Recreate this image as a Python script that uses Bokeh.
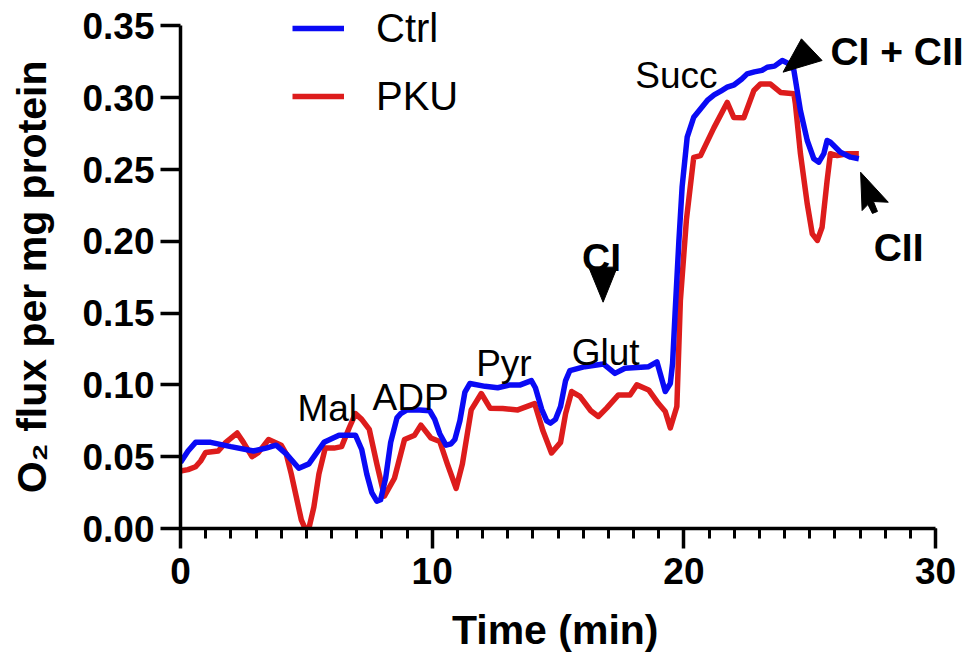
from bokeh.plotting import figure
from bokeh.models import (Range1d, SingleIntervalTicker, FixedTicker, Label, Legend,
                          LegendItem, NumeralTickFormatter)
from bokeh.embed import file_html
from bokeh.resources import INLINE

# ---- data ----
ctrl_t = [0.0, 0.3, 0.6, 1.2, 2.0, 2.9, 3.4, 3.8, 4.2, 4.7, 5.1, 5.7, 6.3, 6.95, 7.2, 7.4, 7.6,
          7.8, 7.95, 8.15, 8.35, 8.6, 8.75, 9.0, 9.5, 9.9, 10.1, 10.3, 10.55, 10.75, 10.9, 11.1,
          11.3, 11.5, 12.1, 12.6, 13.1, 13.5, 13.94, 14.1, 14.35, 14.55, 14.7, 14.9, 15.1, 15.3,
          15.47, 16.06, 16.8, 17.26, 17.66, 18.6, 18.93, 19.26, 19.46, 19.55, 19.65, 19.8, 19.93,
          20.13, 20.39, 20.93, 21.2, 21.5, 21.72, 22.0, 22.3, 22.51, 22.8, 23.1, 23.31, 23.6,
          23.91, 24.17, 24.37, 24.63, 24.9, 25.16, 25.36, 25.56, 25.69, 25.82, 26.22, 26.62,
          26.95]
ctrl_v = [0.046, 0.054, 0.060, 0.060, 0.057, 0.054, 0.056, 0.058, 0.052, 0.042, 0.045, 0.060,
          0.065, 0.065, 0.055, 0.038, 0.025, 0.019, 0.020, 0.035, 0.060, 0.077, 0.080, 0.0826,
          0.0825, 0.082, 0.076, 0.066, 0.058, 0.059, 0.062, 0.075, 0.095, 0.101, 0.099, 0.098,
          0.100, 0.100, 0.103, 0.098, 0.083, 0.075, 0.0734, 0.076, 0.085, 0.103, 0.110, 0.1127,
          0.1146, 0.108, 0.1116, 0.1127, 0.116, 0.0954, 0.101, 0.115, 0.150, 0.200, 0.238,
          0.2725, 0.2864, 0.2981, 0.302, 0.305, 0.3073, 0.309, 0.313, 0.3166, 0.318, 0.319,
          0.3212, 0.322, 0.3259, 0.3236, 0.319, 0.291, 0.2702, 0.2575, 0.2551, 0.261, 0.2702,
          0.269, 0.262, 0.2586, 0.2575]

pku_t = [0.0, 0.3, 0.6, 0.8, 1.0, 1.5, 1.8, 2.25, 2.5, 2.84, 3.1, 3.5, 4.0, 4.2, 4.4, 4.6, 4.8,
         4.95, 5.1, 5.3, 5.5, 5.75, 6.1, 6.4, 6.7, 6.95, 7.2, 7.5, 7.8, 8.1, 8.5, 8.9, 9.3, 9.55,
         9.95, 10.3, 10.6, 10.95, 11.2, 11.55, 11.95, 12.3, 12.8, 13.4, 14.07, 14.4, 14.74,
         15.1, 15.3, 15.54, 15.87, 16.3, 16.6, 16.93, 17.4, 17.86, 18.13, 18.6, 18.99, 19.26,
         19.46, 19.72, 19.86, 20.1, 20.39, 20.66, 21.19, 21.72, 21.98, 22.38, 22.78, 23.04,
         23.44, 23.84, 24.37, 24.43, 24.63, 24.9, 25.1, 25.3, 25.49, 25.69, 25.82, 26.09,
         26.49, 26.95]
pku_v = [0.040, 0.041, 0.043, 0.047, 0.053, 0.054, 0.060, 0.0665, 0.060, 0.050, 0.053, 0.062,
         0.058, 0.052, 0.038, 0.022, 0.006, 0.0, 0.0, 0.015, 0.038, 0.056, 0.056, 0.057, 0.070,
         0.080, 0.076, 0.069, 0.045, 0.0225, 0.035, 0.062, 0.065, 0.072, 0.063, 0.0606, 0.045,
         0.028, 0.045, 0.0826, 0.094, 0.0838, 0.0835, 0.0826, 0.087, 0.068, 0.0526, 0.060,
         0.080, 0.0954, 0.092, 0.082, 0.078, 0.0838, 0.093, 0.093, 0.100, 0.0965, 0.087,
         0.0815, 0.070, 0.085, 0.159, 0.215, 0.2585, 0.2597, 0.279, 0.2967, 0.2863, 0.286,
         0.305, 0.3095, 0.3095, 0.3037, 0.3027, 0.2957, 0.261, 0.2261, 0.2052, 0.2006, 0.2098,
         0.2423, 0.261, 0.2597, 0.261, 0.261]

series_names = ["Ctrl", "PKU"]
y_ticks = [0.00, 0.05, 0.10, 0.15, 0.20, 0.25, 0.30, 0.35]

# annotation texts and anchors (data units)
step_labels = ["Mal", "ADP", "Pyr", "Glut", "Succ"]
step_x = [5.83, 9.14, 12.85, 16.89, 19.7]
step_y = [0.0836, 0.0914, 0.1147, 0.1228, 0.3155]

complex_labels = ["CI", "CI + CII", "CII"]
complex_x = [16.73, 25.82, 27.54]
complex_y = [0.189, 0.332, 0.1955]
complex_align = ["center", "left", "left"]

# arrow / triangle markers
ci_tri_x = [16.22, 17.35, 16.79]
ci_tri_y = [0.182, 0.182, 0.1576]
cicii_tri_x = [23.94, 24.67, 25.49]
cicii_tri_y = [0.3178, 0.341, 0.3259]
cii_arrow_x = [27.02, 27.08, 27.31, 27.49, 27.69, 27.53, 28.12]
cii_arrow_y = [0.2481, 0.2214, 0.2256, 0.2194, 0.2208, 0.2277, 0.2272]

BLUE = "#0A0AF5"
RED = "#DD1C1C"
FONT = "Liberation Sans"
NBSP = "\u00a0"

# frame: x 0..30 spans px 180..935, y 0..0.35 spans px 528..25
p = figure(width=977, height=665, x_range=Range1d(0, 31.585), y_range=Range1d(0, 0.3663),
           output_backend="svg", toolbar_location=None,
           min_border_left=180, min_border_right=2, min_border_top=2, min_border_bottom=137)
p.grid.visible = False
p.outline_line_color = None
p.background_fill_color = "white"

r_pku = p.line(pku_t, pku_v, line_color=RED, line_width=5.5, line_join="round")
r_ctrl = p.line(ctrl_t, ctrl_v, line_color=BLUE, line_width=5.5, line_join="round")

p.patch(ci_tri_x, ci_tri_y, fill_color="black", line_color="black")
p.patch(cicii_tri_x, cicii_tri_y, fill_color="black", line_color="black")
p.patch(cii_arrow_x, cii_arrow_y, fill_color="black", line_color="black")

# axes
for ax in (p.xaxis[0], p.yaxis[0]):
    ax.axis_line_width = 3.5
    ax.axis_line_color = "black"
    ax.major_tick_line_width = 3.5
    ax.minor_tick_line_width = 3
    ax.major_tick_in = 0
    ax.minor_tick_in = 0
    ax.major_label_text_font = FONT
    ax.major_label_text_font_style = "bold"
    ax.major_label_text_font_size = "37px"
    ax.major_label_text_color = "black"
    ax.axis_label_text_font = FONT
    ax.axis_label_text_font_style = "bold"
    ax.axis_label_text_font_size = "41px"
    ax.axis_label_text_color = "black"

p.xaxis.ticker = SingleIntervalTicker(interval=10, num_minor_ticks=10)
p.xaxis.bounds = (0, 30)
p.xaxis.major_tick_out = 20
p.xaxis.minor_tick_out = 10
p.xaxis.major_label_standoff = 9
# trailing no-break spaces keep the label centred on the 0-30 axis span
p.xaxis.axis_label = "Time (min)" + NBSP * 4
p.xaxis.axis_label_standoff = 20

p.yaxis.ticker = FixedTicker(ticks=y_ticks)
p.yaxis.bounds = (0, 0.35)
p.yaxis.formatter = NumeralTickFormatter(format="0.00")
p.yaxis.major_tick_out = 20
p.yaxis.minor_tick_line_color = None
p.yaxis.major_label_standoff = 6
p.yaxis.axis_label = "O\u2082 flux per mg protein" + NBSP * 2
p.yaxis.axis_label_standoff = 24

# annotations
for txt, x, y in zip(step_labels, step_x, step_y):
    p.add_layout(Label(x=x, y=y, text=txt, text_align="center", text_baseline="alphabetic",
                       text_font=FONT, text_font_size="37px", text_color="black"))
for txt, x, y, al in zip(complex_labels, complex_x, complex_y, complex_align):
    p.add_layout(Label(x=x, y=y, text=txt, text_align=al, text_baseline="alphabetic",
                       text_font=FONT, text_font_size="39px", text_font_style="bold",
                       text_color="black"))

legend = Legend(items=[LegendItem(label=series_names[0], renderers=[r_ctrl]),
                       LegendItem(label=series_names[1], renderers=[r_pku])],
                location=(112, 409.5), label_text_font=FONT, label_text_font_size="40px",
                label_text_color="black",
                glyph_width=52, glyph_height=20, label_standoff=32, spacing=23,
                padding=0, margin=0, border_line_color=None, background_fill_alpha=0)
p.add_layout(legend, "center")

open("out.html", "w").write(file_html(p, INLINE))
